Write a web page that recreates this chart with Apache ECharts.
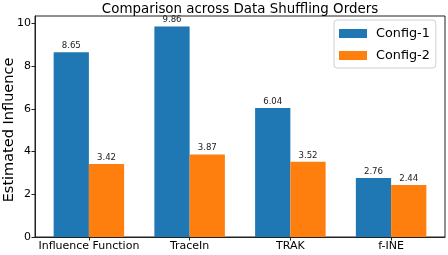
<!DOCTYPE html>
<html>
<head>
<meta charset="utf-8">
<script src="https://cdn.jsdelivr.net/npm/echarts@6/dist/echarts.min.js"></script>
<style>html,body{margin:0;padding:0;background:#fff;}#c{width:448px;height:255px;}</style>
</head>
<body>
<div id="c"></div>
<script>
var categories = ['Influence Function', 'TraceIn', 'TRAK', 'f-INE'];
var config1 = [8.65, 9.86, 6.04, 2.76];
var config2 = [3.42, 3.87, 3.52, 2.44];
var yTicks = [0, 2, 4, 6, 8, 10];
var seriesNames = ['Config-1', 'Config-2'];
var yAxisTitle = 'Estimated Influence';

var FONT = 'DejaVu Sans';
var colors = ['#1f77b4', '#ff7f0e'];
var BAR_W = 0.35;

function makeSeries(name, values, offset, color) {
  return {
    name: name,
    type: 'custom',
    itemStyle: { color: color },
    data: values.map(function (v, i) { return [i, v]; }),
    renderItem: function (params, api) {
      var x = api.value(0) + offset;
      var v = api.value(1);
      var top = api.coord([x, v]);
      var base = api.coord([x, 0]);
      var w = api.size([BAR_W, 0])[0];
      return {
        type: 'group',
        children: [
          { type: 'rect', shape: { x: top[0] - w / 2, y: top[1], width: w, height: base[1] - top[1] }, style: { fill: color } },
          { type: 'text', style: { text: v.toFixed(2), x: top[0], y: top[1] - 2, align: 'center', verticalAlign: 'bottom', font: '8.6px "DejaVu Sans"', fill: '#222' } }
        ]
      };
    }
  };
}

var chart = echarts.init(document.getElementById('c'), null, { renderer: 'canvas' });
chart.setOption({
  animation: false,
  backgroundColor: '#fff',
  title: {
    text: 'Comparison across Data Shuffling Orders',
    left: 235, top: -2, textAlign: 'center',
    textStyle: { fontFamily: FONT, fontSize: 13.4, fontWeight: 'normal', color: '#000' }
  },
  graphic: [{
    type: 'text', x: 9, y: 130, rotation: Math.PI / 2,
    style: { text: yAxisTitle, font: '14.5px "DejaVu Sans"', fill: '#000', align: 'center', verticalAlign: 'middle' }
  }],
  legend: {
    orient: 'vertical',
    left: 334, top: 20,
    data: seriesNames.map(function (n) { return { name: n, icon: 'rect' }; }),
    itemWidth: 28, itemHeight: 9, itemGap: 9,
    padding: [7, 6, 6, 5],
    borderColor: '#d0d0d0', borderWidth: 1, borderRadius: 3,
    textStyle: { fontFamily: FONT, fontSize: 12.8, color: '#000', padding: [0, 0, 0, 4] }
  },
  grid: { left: 35, right: 3, top: 16, bottom: 18, containLabel: false, outerBoundsMode: 'none', show: true, borderColor: '#222', borderWidth: 1, backgroundColor: 'transparent' },
  xAxis: {
    type: 'value', min: -0.535, max: 3.535,
    splitLine: { show: false },
    axisLine: { show: true, onZero: false, lineStyle: { color: '#222', width: 1 } },
    axisTick: { show: true, customValues: [0, 1, 2, 3], length: 3.5, lineStyle: { color: '#222' } },
    axisLabel: { customValues: [0, 1, 2, 3], formatter: function (v) { return categories[Math.round(v)]; }, fontFamily: FONT, fontSize: 11, color: '#000', margin: 4 }
  },
  yAxis: {
    type: 'value', min: 0, max: 10.353,
    splitLine: { show: false },
    axisLine: { show: true, onZero: false, lineStyle: { color: '#222', width: 1 } },
    axisTick: { show: true, customValues: yTicks, length: 3.5, lineStyle: { color: '#222' } },
    axisLabel: { customValues: yTicks, fontFamily: FONT, fontSize: 11, color: '#000', margin: 4 }
  },
  series: [
    makeSeries(seriesNames[0], config1, -BAR_W / 2, colors[0]),
    makeSeries(seriesNames[1], config2, BAR_W / 2, colors[1])
  ]
});
</script>
</body>
</html>
